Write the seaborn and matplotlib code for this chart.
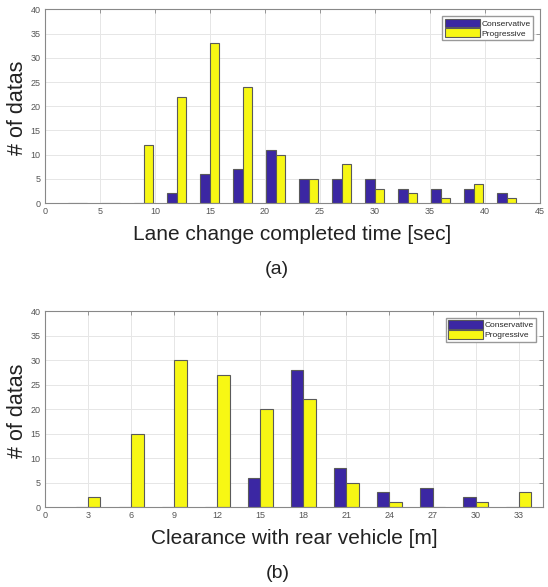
import pandas as pd
import matplotlib
matplotlib.use('Agg')
import matplotlib.pyplot as plt
import seaborn as sns


sns.set_theme(style="white")
plt.rcParams['font.family'] = ['Liberation Sans', 'DejaVu Sans']

# (a) Lane change completed time
time_bins = [3, 6, 9, 12, 15, 18, 21, 24, 27, 30, 33, 36, 39, 42]
time_conservative = [0, 0, 0, 2, 6, 7, 11, 5, 5, 5, 3, 3, 3, 2]
time_progressive = [0, 0, 12, 22, 33, 24, 10, 5, 8, 3, 2, 1, 4, 1]

# (b) Clearance with rear vehicle
gap_bins = [3, 6, 9, 12, 15, 18, 21, 24, 27, 30, 33]
gap_conservative = [0, 0, 0, 0, 6, 28, 8, 3, 4, 2, 0]
gap_progressive = [2, 15, 30, 27, 20, 22, 5, 1, 0, 1, 3]

groups = ['Conservative', 'Progressive']
colors = ['#3b27a3', '#f7f714']


def to_long(bins, cons, prog):
    df_c = pd.DataFrame({'x': bins, 'n': cons, 'type': groups[0]})
    df_p = pd.DataFrame({'x': bins, 'n': prog, 'type': groups[1]})
    return pd.concat([df_c, df_p], ignore_index=True)


df_a = to_long(time_bins, time_conservative, time_progressive)
df_b = to_long(gap_bins, gap_conservative, gap_progressive)

fig = plt.figure(figsize=(5.48, 5.87), dpi=100)
ax1 = fig.add_axes([0.082, 0.654, 0.903, 0.330])
ax2 = fig.add_axes([0.082, 0.136, 0.909, 0.334])


def draw(ax, df, xlim, xticks, xlabel):
    sns.barplot(data=df, x='x', y='n', hue='type', hue_order=groups,
                palette=colors, native_scale=True, width=0.58,
                edgecolor='#5a5a5a', linewidth=0.8, saturation=1,
                errorbar=None, ax=ax)
    ax.set_xlim(*xlim)
    ax.set_ylim(0, 40)
    ax.set_xticks(xticks)
    ax.set_yticks(range(0, 41, 5))
    ax.grid(True, color='#e6e6e6', linewidth=0.7)
    ax.set_axisbelow(True)
    for s in ax.spines.values():
        s.set_color('#888888')
        s.set_linewidth(0.8)
    ax.tick_params(direction='in', top=True, right=True, length=3,
                   width=0.6, color='#888888', labelsize=6.5,
                   labelcolor='#555555', pad=3)
    ax.set_ylabel('# of datas', fontsize=15.5, color='#222222')
    ax.yaxis.set_label_coords(-0.034, 0.49)
    ax.set_xlabel(xlabel, fontsize=15, color='#222222', labelpad=6)
    ax.legend(loc='upper right', fontsize=6, title=None, frameon=True,
              fancybox=False, edgecolor='#999999', framealpha=1,
              handlelength=4.2, handleheight=1.2, handletextpad=0.2,
              labelspacing=0.1, borderpad=0.3, borderaxespad=0.8)


draw(ax1, df_a, (0, 45), range(0, 46, 5), 'Lane change completed time [sec]')
draw(ax2, df_b, (0, 34.7), range(0, 34, 3), 'Clearance with rear vehicle [m]')

fig.text(0.506, 1 - 270 / 587, '(a)', fontsize=14, color='#222222',
         ha='center', va='center')
fig.text(0.506, 1 - 573 / 587, '(b)', fontsize=14, color='#222222',
         ha='center', va='center')

plt.savefig('out.png', dpi=100)
